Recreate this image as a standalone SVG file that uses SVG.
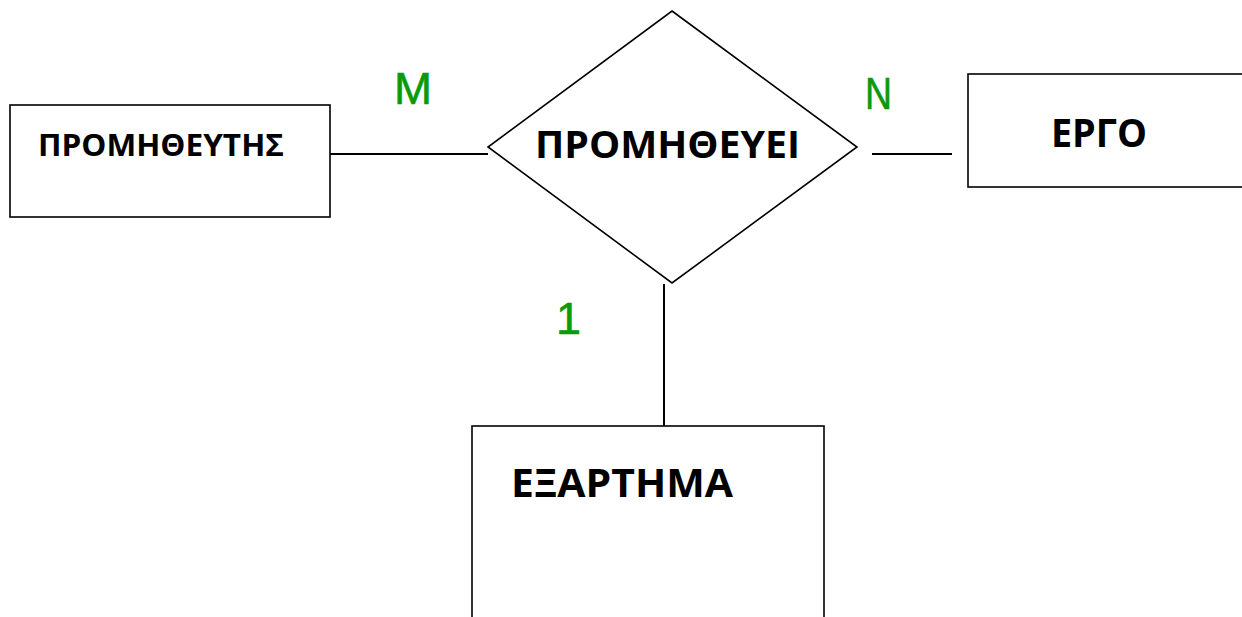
<svg xmlns="http://www.w3.org/2000/svg" width="1242" height="617" viewBox="0 0 1242 617">
<style>
.box{fill:#fff;stroke:#000;stroke-width:1.6}
.ln{stroke:#000;stroke-width:2;fill:none}
.t{font-family:"Open Sans","Liberation Sans",sans-serif;font-weight:bold;fill:#000}
.c{font-family:"Liberation Sans","Open Sans",sans-serif;fill:#0a9a0a;stroke:#0a9a0a;stroke-width:0.6}
</style>
<rect width="1242" height="617" fill="#fff"/>
<g id="connectors">
<line class="ln" x1="330" y1="154" x2="488" y2="154"/>
<line class="ln" x1="872" y1="154" x2="952" y2="154"/>
<line class="ln" x1="664" y1="284" x2="664" y2="426"/>
</g>
<g id="supplier">
<rect class="box" x="10" y="105" width="320" height="112"/>
<text class="t" x="38" y="156" font-size="30" textLength="246" lengthAdjust="spacingAndGlyphs">ΠΡΟΜΗΘΕΥΤΗΣ</text>
</g>
<g id="supplies">
<polygon class="box" points="672,11 857,147 672,283 488,147" stroke-width="1.5"/>
<text class="t" x="535" y="158" font-size="37" textLength="265" lengthAdjust="spacingAndGlyphs">ΠΡΟΜΗΘΕΥΕΙ</text>
</g>
<g id="project">
<rect class="box" x="968" y="74" width="290" height="113"/>
<text class="t" x="1051" y="147" font-size="39" textLength="96" lengthAdjust="spacingAndGlyphs">ΕΡΓΟ</text>
</g>
<g id="part">
<rect class="box" x="472" y="426" width="352" height="210"/>
<text class="t" x="511" y="497" font-size="40" textLength="222" lengthAdjust="spacingAndGlyphs">ΕΞΑΡΤΗΜΑ</text>
</g>
<g id="cardinalities">
<text class="c" x="394" y="104" font-size="45" textLength="38" lengthAdjust="spacingAndGlyphs">M</text>
<text class="c" x="865" y="109" font-size="45" textLength="27" lengthAdjust="spacingAndGlyphs">N</text>
<text class="c" x="556" y="334" font-size="45">1</text>
</g>
</svg>
